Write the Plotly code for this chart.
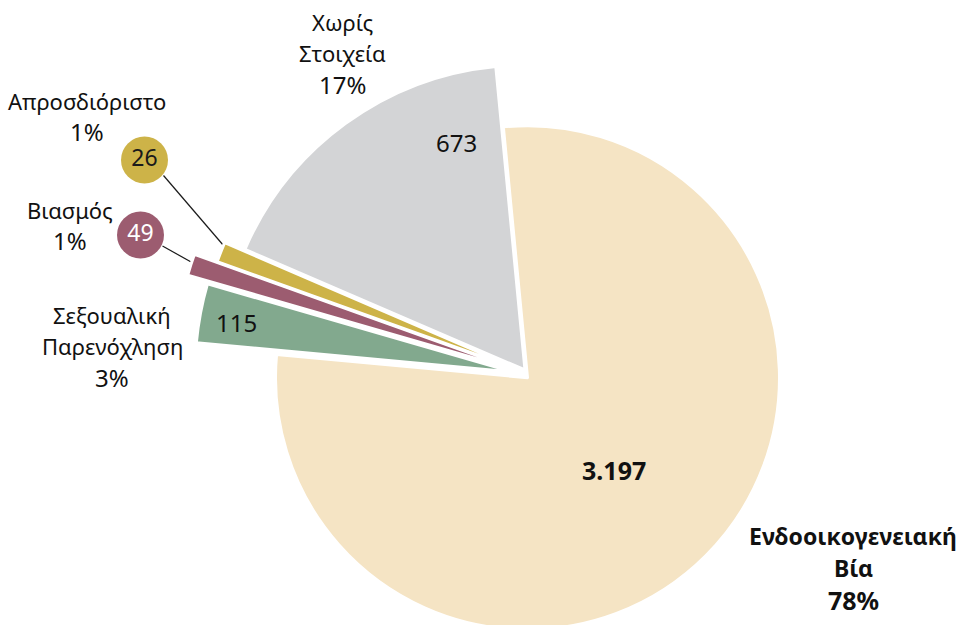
import plotly.graph_objects as go

# Shares of incidents by category (percent of total) and raw counts
labels = ["Ενδοοικογενειακή Βία", "Σεξουαλική Παρενόχληση", "Βιασμός", "Απροσδιόριστο", "Χωρίς Στοιχεία"]
shares = [78, 3, 1, 1, 17]
counts = [3197, 115, 49, 26, 673]
colors = ["#F5E4C4", "#82A98E", "#9C5C70", "#CDB348", "#D3D4D6"]

W, H = 960, 760

# per-slice wedge centre (px from top-left) and outer radius (px)
geometry = [
    (527.5, 377.7, 252),
    (513.0, 372.0, 318),
    (523.0, 372.0, 349),
    (525.0, 372.0, 327),
    (525.0, 370.0, 305),
]

FONT = "Noto Sans"
TRANSPARENT = "rgba(0,0,0,0)"
TEXT_SIZE = 22
NUM_SIZE = 24


def fmt_count(n):
    return f"{n:,}".replace(",", ".")


fig = go.Figure()

for i, (cx, cy, r) in enumerate(geometry):
    slice_colors = [colors[j] if j == i else TRANSPARENT for j in range(len(shares))]
    line_colors = ["white" if j == i else TRANSPARENT for j in range(len(shares))]
    line_widths = [3 if j == i else 0 for j in range(len(shares))]
    fig.add_trace(go.Pie(
        labels=labels,
        values=shares,
        sort=False,
        direction="clockwise",
        rotation=-5.5,
        marker=dict(colors=slice_colors, line=dict(color=line_colors, width=line_widths)),
        textinfo="none",
        hoverinfo="skip",
        showlegend=False,
        domain=dict(
            x=[(cx - r) / W, (cx + r) / W],
            y=[(H - cy - r) / H, (H - cy + r) / H],
        ),
    ))

# leader lines from the count badges to the thin slices
leaders = {3: ((163.5, 175.5), (223.5, 245.5)), 2: ((162.5, 246.0), (192.0, 262.5))}
for idx, ((x0, y0), (x1, y1)) in leaders.items():
    fig.add_trace(go.Scatter(
        x=[x0, x1], y=[y0, y1], mode="lines",
        line=dict(color="#1a1a1a", width=1.2),
        hoverinfo="skip", showlegend=False,
    ))

# circular count badges for the thin slices
badges = {3: (144.5, 160.0, "#1a1a1a"), 2: (140.5, 235.0, "white")}
for idx, (bx, by, tc) in badges.items():
    fig.add_trace(go.Scatter(
        x=[bx], y=[by], mode="markers+text",
        marker=dict(size=47, color=colors[idx], line=dict(width=0)),
        text=[fmt_count(counts[idx])], textposition="middle center",
        textfont=dict(family=FONT, size=23, color=tc),
        hoverinfo="skip", showlegend=False,
    ))

annotations = []


def add_lines(lines, x, y0, dy, bold=False):
    for k, line in enumerate(lines):
        is_num = line.endswith("%")
        size = NUM_SIZE if is_num else TEXT_SIZE
        if bold:
            size += 1
        txt = f"<b>{line}</b>" if bold else line
        annotations.append(dict(
            x=x, y=y0 + k * dy, xref="x", yref="y", text=txt, showarrow=False,
            xanchor="center", yanchor="middle",
            font=dict(family=FONT, size=size, color="#111111"),
        ))


# category names with their shares
add_lines(["Ενδοοικογενειακή", "Βία", f"{shares[0]}%"], 853, 536, 32, bold=True)
add_lines(["Σεξουαλική", "Παρενόχληση", f"{shares[1]}%"], 112, 315, 31)
add_lines(["Βιασμός", f"{shares[2]}%"], 70, 210, 30)
add_lines(["Απροσδιόριστο", f"{shares[3]}%"], 87, 101, 30)
add_lines(["Χωρίς", "Στοιχεία", f"{shares[4]}%"], 342, 22, 31)

# counts printed inside the larger slices
inner = {0: (614, 470, True), 4: (456, 142, False), 1: (236, 322, False)}
for idx, (x, y, bold) in inner.items():
    txt = fmt_count(counts[idx])
    annotations.append(dict(
        x=x, y=y, xref="x", yref="y",
        text=f"<b>{txt}</b>" if bold else txt, showarrow=False,
        xanchor="center", yanchor="middle",
        font=dict(family=FONT, size=NUM_SIZE + (1 if bold else 0), color="#111111"),
    ))

fig.update_layout(
    width=W, height=H,
    margin=dict(l=0, r=0, t=0, b=0),
    paper_bgcolor="white", plot_bgcolor="rgba(0,0,0,0)",
    xaxis=dict(range=[0, W], visible=False, fixedrange=True),
    yaxis=dict(range=[H, 0], visible=False, fixedrange=True),
    annotations=annotations,
)

fig.write_html(
    "out.html",
    config={"displayModeBar": False, "staticPlot": True},
    post_script="document.body.style.margin='0';document.body.style.overflow='hidden';",
)
